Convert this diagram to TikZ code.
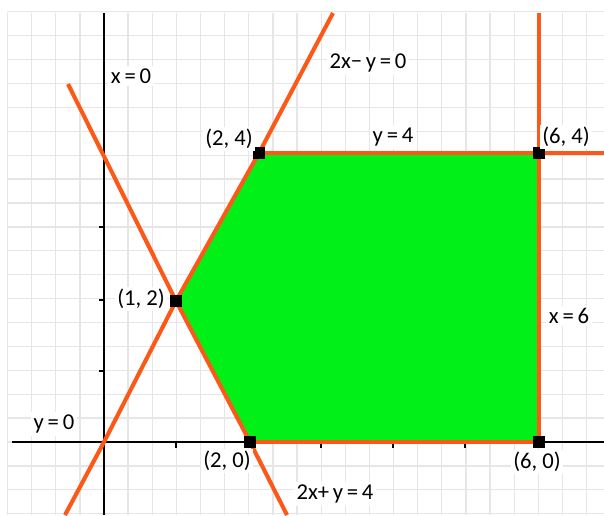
\documentclass[tikz,border=0pt]{standalone}
\usepackage{fontspec}
\setmainfont{Carlito}
\definecolor{edgeorange}{RGB}{252,88,24}
\definecolor{regiongreen}{RGB}{0,240,24}
\definecolor{gridgray}{RGB}{230,230,230}
\begin{document}
\begin{tikzpicture}[x=0.013813cm,y=-0.013813cm,
  gridline/.style={draw=gridgray,line width=0.5pt},
  axisline/.style={draw=black,line width=0.8pt},
  edgeline/.style={draw=edgeorange,line width=1.6pt},
  region/.style={fill=regiongreen,draw=none},
  vertex/.style={rectangle,fill=black,inner sep=0pt,minimum size=4.7pt},
  lbl/.style={fill=white,inner sep=1pt,font=\fontsize{8.9}{10}\selectfont},
  tick/.style={draw=black,line width=0.6pt}]
\useasboundingbox (0,0) rectangle (604,515);
\fill[white] (0,0) rectangle (604,515);
% grid
\foreach \k in {-4,...,20} \draw[gridline] ({104+24.13*\k},13) -- ({104+24.13*\k},515);
\foreach \k in {-3,...,18} \draw[gridline] (7,{442-23.9*\k}) -- (604,{442-23.9*\k});
% key points
\coordinate (A) at (176,301);
\coordinate (B) at (259,153);
\coordinate (C) at (539,153);
\coordinate (D) at (539,442);
\coordinate (E) at (250,442);
\coordinate (O) at (104,442);
% feasible region
\fill[region] (A) -- (B) -- (C) -- (D) -- (E) -- cycle;
% axes
\coordinate (xl) at (12,442);
\coordinate (xr) at (604,442);
\coordinate (yt) at (104,13);
\coordinate (yb) at (104,515);
\draw[axisline] (xl) -- (xr);
\draw[axisline] (yt) -- (yb);
% ticks
\foreach \ty in {371,300,227} \draw[tick] (99,\ty) -- (104,\ty);
\foreach \tx in {176,321,393,465} \draw[tick] (\tx,442) -- (\tx,448);
% constraint lines
\coordinate (l1s) at (65,515);
\coordinate (l1e) at (333,13);
\coordinate (l2s) at (68,84);
\coordinate (l2e) at (287,515);
\coordinate (x6t) at (539,13);
\coordinate (y4r) at (604,153);
\draw[edgeline] (l1s) -- (O) -- (A) -- (B) -- (l1e);
\draw[edgeline] (l2s) -- (A) -- (E) -- (l2e);
\draw[edgeline] (B) -- (C) -- (y4r);
\draw[edgeline] (x6t) -- (C) -- (D);
\draw[edgeline] (E) -- (D);
% vertices
\node[vertex] (p12) at (A) {};
\node[vertex] (p24) at (B) {};
\node[vertex] (p64) at (C) {};
\node[vertex] (p60) at (D) {};
\node[vertex] (p20) at (E) {};
% labels
\node[lbl] (tx0) at (131,76) {x\,=\,0};
\node[lbl] (t2xmy) at (368,63) {2x−\,y\,=\,0};
\node[lbl] (t24) at (229,139) {(2, 4)};
\node[lbl] (ty4) at (393,137) {y\,=\,4};
\node[lbl] (t64) at (566,137) {(6, 4)};
\node[lbl] (t12) at (141,299) {(1, 2)};
\node[lbl] (tx6) at (569,316) {x\,=\,6};
\node[lbl] (ty0) at (54,424) {y\,=\,0};
\node[lbl] (t20) at (227,461) {(2, 0)};
\node[lbl] (t60) at (537,462) {(6, 0)};
\node[lbl] (t2xpy) at (335,494) {2x+\,y\,=\,4};
\end{tikzpicture}
\end{document}
